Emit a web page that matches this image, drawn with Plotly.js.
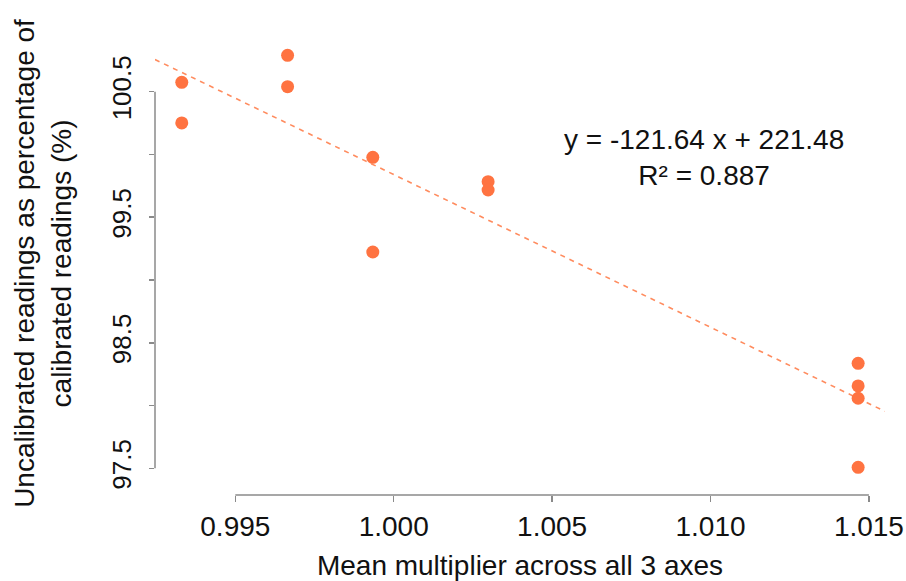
<!DOCTYPE html>
<html>
<head>
<meta charset="utf-8">
<script src="https://cdn.plot.ly/plotly-3.0.1.min.js"></script>
<style>html,body{margin:0;padding:0;background:#fff;}#chart{width:906px;height:581px;}</style>
</head>
<body>
<div id="chart"></div>
<script>
// Data
const meanMultiplier = [0.99331, 0.99331, 0.99665, 0.99665, 0.99934, 0.99934, 1.00298, 1.00298, 1.01466, 1.01466, 1.01466, 1.01466];
const uncalibratedPct = [100.575, 100.251, 100.79, 100.54, 99.977, 99.223, 99.783, 99.717, 98.336, 98.156, 98.058, 97.508];
const fitSlope = -121.64;
const fitIntercept = 221.48;
const fitR2 = 0.887;
const xTickVals = [0.995, 1.000, 1.005, 1.010, 1.015];
const xTickText = ['0.995', '1.000', '1.005', '1.010', '1.015'];
const yTickVals = [97.5, 98.0, 98.5, 99.0, 99.5, 100.0, 100.5];
const yTickText = ['97.5', '', '98.5', '', '99.5', '', '100.5'];

const xRange = [0.992465, 1.015508];
const yRange = [97.37, 100.92];

const fitX = [xRange[0], xRange[1]];
const fitY = fitX.map(v => fitIntercept + fitSlope * v);

const font = 'Liberation Sans, Arial, sans-serif';
const axisGrey = '#8a8a8a';

const traces = [
  {
    x: fitX, y: fitY, type: 'scatter', mode: 'lines',
    line: {color: 'rgb(255,140,95)', width: 1.6, dash: '5px,5px'},
    hoverinfo: 'skip', showlegend: false
  },
  {
    x: meanMultiplier, y: uncalibratedPct, type: 'scatter', mode: 'markers',
    marker: {color: 'rgb(255,115,65)', size: 13, line: {width: 0}},
    showlegend: false
  }
];

const layout = {
  width: 906, height: 581,
  margin: {l: 155, r: 21, t: 39, b: 86},
  paper_bgcolor: '#fff', plot_bgcolor: '#fff',
  font: {family: font, color: '#111'},
  showlegend: false,
  xaxis: {
    range: xRange, anchor: 'free', position: 0,
    showgrid: false, zeroline: false, showline: false,
    tickmode: 'array', tickvals: xTickVals, ticktext: xTickText,
    ticks: 'outside', ticklen: 6, tickwidth: 1.5, tickcolor: axisGrey,
    tickfont: {family: font, size: 28, color: '#111'},
    ticklabelstandoff: 0,
    title: {text: 'Mean multiplier across all 3 axes', font: {family: font, size: 28, color: '#111'}, standoff: 20}
  },
  yaxis: {
    range: yRange, domain: [0.0228, 1],
    showgrid: false, zeroline: false, showline: false,
    tickmode: 'array', tickvals: yTickVals, ticktext: yTickText,
    ticks: 'outside', ticklen: 5, tickwidth: 1.5, tickcolor: axisGrey,
    tickangle: -90,
    tickfont: {family: font, size: 26, color: '#111'},
    ticklabelstandoff: 8
  },
  shapes: [
    {type: 'line', xref: 'x', yref: 'paper', x0: xTickVals[0], x1: xTickVals[xTickVals.length - 1], y0: 0, y1: 0,
     line: {color: axisGrey, width: 1.5}},
    {type: 'line', xref: 'paper', yref: 'y', x0: 0, x1: 0, y0: yTickVals[0], y1: yTickVals[yTickVals.length - 1],
     line: {color: axisGrey, width: 1.5}}
  ],
  annotations: [
    {
      text: 'Uncalibrated readings as percentage of<br>calibrated readings (%)',
      xref: 'paper', yref: 'paper', x: -0.1541, y: 0.508,
      xanchor: 'center', yanchor: 'middle', textangle: -90, showarrow: false,
      align: 'center', font: {family: font, size: 28, color: '#111'}
    },
    {
      text: 'y = ' + fitSlope.toFixed(2) + ' x + ' + fitIntercept.toFixed(2) + '<br>R² = ' + fitR2.toFixed(3),
      xref: 'paper', yref: 'paper', x: 0.7527, y: 0.7412,
      xanchor: 'center', yanchor: 'middle', showarrow: false,
      align: 'center', font: {family: font, size: 28, color: '#111'}
    }
  ]
};

Plotly.newPlot('chart', traces, layout, {displayModeBar: false, staticPlot: true});
</script>
</body>
</html>
